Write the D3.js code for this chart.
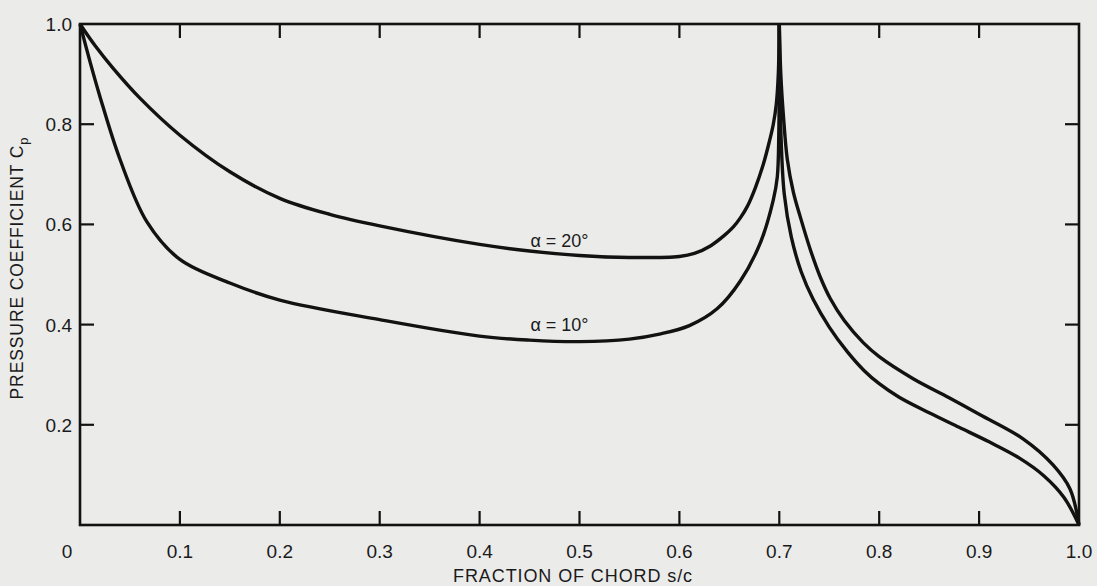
<!DOCTYPE html>
<html>
<head>
<meta charset="utf-8">
<script src="https://cdn.jsdelivr.net/npm/d3@7"></script>
<style>
  html, body { margin: 0; padding: 0; background: #ebebea; }
  svg { display: block; }
  text { font-family: "Liberation Sans", Arial, Helvetica, sans-serif; fill: #1a1a1a; }
</style>
</head>
<body>
<svg id="chart" width="1097" height="586"></svg>
<script>
// ---------- data ----------
const xTicks = [0.1, 0.2, 0.3, 0.4, 0.5, 0.6, 0.7, 0.8, 0.9, 1.0];
const xTickLabels = ["0.1", "0.2", "0.3", "0.4", "0.5", "0.6", "0.7", "0.8", "0.9", "1.0"];
const yTicks = [0.2, 0.4, 0.6, 0.8, 1.0];
const yTickLabels = ["0.2", "0.4", "0.6", "0.8", "1.0"];

// alpha = 20 deg, forward branch (leading edge to x = 0.7)
const a20FrontX = [0, 0.015, 0.033, 0.06, 0.1, 0.15, 0.2, 0.25, 0.3, 0.4, 0.45, 0.5, 0.55, 0.6, 0.615, 0.631, 0.645, 0.654, 0.661, 0.668, 0.676, 0.684, 0.69, 0.694, 0.697, 0.699, 0.7];
const a20FrontY = [1.0, 0.957, 0.912, 0.852, 0.778, 0.705, 0.652, 0.620, 0.597, 0.560, 0.547, 0.538, 0.534, 0.536, 0.542, 0.557, 0.578, 0.595, 0.613, 0.636, 0.673, 0.720, 0.765, 0.80, 0.84, 0.90, 1.0];
// alpha = 20 deg, aft branch (x = 0.7 to trailing edge)
const a20BackX = [0.7, 0.7015, 0.704, 0.708, 0.714, 0.721, 0.731, 0.741, 0.751, 0.765, 0.784, 0.8, 0.834, 0.87, 0.901, 0.944, 0.974, 0.991, 1.0];
const a20BackY = [1.0, 0.90, 0.82, 0.73, 0.665, 0.615, 0.55, 0.495, 0.452, 0.408, 0.364, 0.336, 0.292, 0.254, 0.220, 0.172, 0.120, 0.072, 0.0];

// alpha = 10 deg, forward branch
const a10FrontX = [0, 0.01, 0.02, 0.04, 0.067, 0.1, 0.15, 0.2, 0.3, 0.4, 0.45, 0.5, 0.55, 0.58, 0.61, 0.638, 0.661, 0.681, 0.694, 0.698, 0.6995, 0.7];
const a10FrontY = [1.0, 0.925, 0.855, 0.73, 0.605, 0.53, 0.483, 0.449, 0.410, 0.377, 0.369, 0.366, 0.371, 0.381, 0.398, 0.432, 0.487, 0.563, 0.649, 0.695, 0.78, 1.0];
// alpha = 10 deg, aft branch
const a10BackX = [0.7, 0.7008, 0.702, 0.705, 0.712, 0.722, 0.734, 0.75, 0.768, 0.785, 0.8, 0.82, 0.85, 0.88, 0.91, 0.94, 0.965, 0.985, 1.0];
const a10BackY = [1.0, 0.86, 0.76, 0.66, 0.575, 0.505, 0.45, 0.395, 0.346, 0.308, 0.282, 0.255, 0.224, 0.195, 0.166, 0.134, 0.098, 0.055, 0.0];

const seriesLabels = ["\u03b1 = 20\u00b0", "\u03b1 = 10\u00b0"];
const labelPos = [[0.5, 0.555], [0.5, 0.387]];

// ---------- drawing ----------
const svg = d3.select("#chart");
const x = d3.scaleLinear().domain([0, 1]).range([80, 1079]);
const y = d3.scaleLinear().domain([0, 1]).range([525, 24]);
const ink = "#121212";

const line = d3.line().x(d => x(d[0])).y(d => y(d[1])).curve(d3.curveCatmullRom.alpha(0.5));
const zip = (a, b) => a.map((v, i) => [v, b[i]]);

[[a20FrontX, a20FrontY], [a20BackX, a20BackY], [a10FrontX, a10FrontY], [a10BackX, a10BackY]]
  .forEach(([xs, ys]) => {
    svg.append("path")
      .attr("d", line(zip(xs, ys)))
      .attr("fill", "none")
      .attr("stroke", ink)
      .attr("stroke-width", 3.4)
      .attr("stroke-linejoin", "round");
  });

// frame
svg.append("rect")
  .attr("x", x(0)).attr("y", y(1))
  .attr("width", x(1) - x(0)).attr("height", y(0) - y(1))
  .attr("fill", "none").attr("stroke", ink).attr("stroke-width", 2.6);

const tickLen = 14;
const xt = xTicks.filter(t => t < 1);
svg.append("g").selectAll("line").data(xt).join("line")
  .attr("x1", d => x(d)).attr("x2", d => x(d))
  .attr("y1", y(0)).attr("y2", y(0) - tickLen)
  .attr("stroke", ink).attr("stroke-width", 2.2);
svg.append("g").selectAll("line").data(xt).join("line")
  .attr("x1", d => x(d)).attr("x2", d => x(d))
  .attr("y1", y(1)).attr("y2", y(1) + tickLen)
  .attr("stroke", ink).attr("stroke-width", 2.2);
const yt = yTicks.filter(t => t < 1);
svg.append("g").selectAll("line").data(yt).join("line")
  .attr("x1", x(0)).attr("x2", x(0) + tickLen)
  .attr("y1", d => y(d)).attr("y2", d => y(d))
  .attr("stroke", ink).attr("stroke-width", 2.2);
svg.append("g").selectAll("line").data(yt).join("line")
  .attr("x1", x(1)).attr("x2", x(1) - tickLen)
  .attr("y1", d => y(d)).attr("y2", d => y(d))
  .attr("stroke", ink).attr("stroke-width", 2.2);

// tick labels
svg.append("g").selectAll("text").data(xTicks).join("text")
  .attr("x", d => x(d)).attr("y", 558)
  .attr("text-anchor", "middle").attr("font-size", 19)
  .text((d, i) => xTickLabels[i]);
svg.append("text").attr("x", 67).attr("y", 558)
  .attr("text-anchor", "middle").attr("font-size", 19).text("0");
svg.append("g").selectAll("text").data(yTicks).join("text")
  .attr("x", 72).attr("y", d => y(d) + 7)
  .attr("text-anchor", "end").attr("font-size", 19)
  .text((d, i) => yTickLabels[i]);

// axis titles
svg.append("text").attr("x", 573).attr("y", 582)
  .attr("text-anchor", "middle").attr("font-size", 18)
  .attr("letter-spacing", 0.9)
  .text("FRACTION OF CHORD s/c");
const yt2 = svg.append("text")
  .attr("transform", "translate(23,268) rotate(-90)")
  .attr("text-anchor", "middle").attr("font-size", 17.5)
  .attr("letter-spacing", 0.9);
yt2.append("tspan").text("PRESSURE COEFFICIENT C");
yt2.append("tspan").attr("dy", 5).attr("font-size", 13).text("p");

// series labels
svg.append("g").selectAll("text").data(labelPos).join("text")
  .attr("x", d => x(d[0]) - 20).attr("y", d => y(d[1]))
  .attr("text-anchor", "middle").attr("font-size", 18)
  .text((d, i) => seriesLabels[i]);
</script>
</body>
</html>
